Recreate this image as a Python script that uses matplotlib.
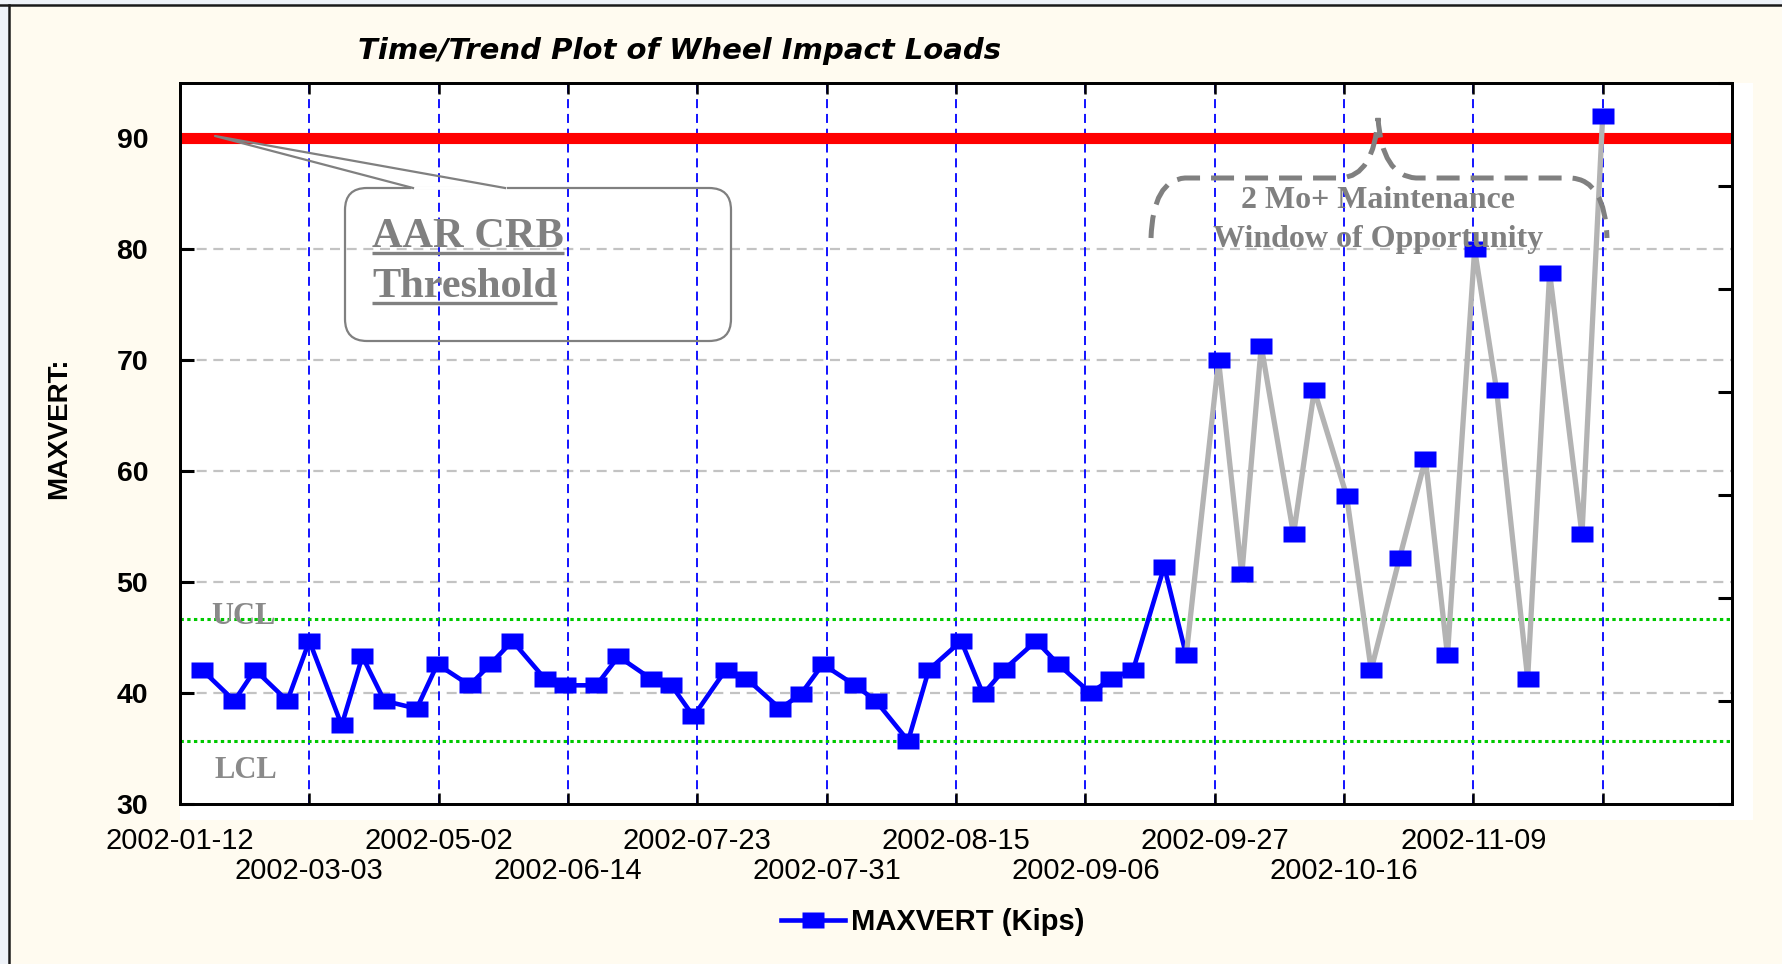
import matplotlib
matplotlib.use('Agg')
import matplotlib.pyplot as plt
from matplotlib.patches import FancyBboxPatch, Rectangle, PathPatch
from matplotlib.path import Path
from matplotlib.lines import Line2D
import matplotlib.transforms as mtransforms
import numpy as np

# ---------------- data ----------------
tick_labels = ['2002-01-12', '2002-03-03', '2002-05-02', '2002-06-14', '2002-07-23',
               '2002-07-31', '2002-08-15', '2002-09-06', '2002-09-27', '2002-10-16',
               '2002-11-09']
x_pos = [0.17, 0.42, 0.58, 0.83, 1.00, 1.25, 1.41, 1.58, 1.83, 1.99,
         2.24, 2.40, 2.57, 2.82, 2.98, 3.22, 3.39, 3.64, 3.80, 3.97,
         4.22, 4.38, 4.64, 4.80, 4.97, 5.22, 5.38, 5.63, 5.79, 6.04,
         6.21, 6.37, 6.62, 6.79, 7.04, 7.20, 7.37, 7.61, 7.78, 8.03,
         8.21, 8.36, 8.61, 8.77, 9.02, 9.21, 9.43, 9.63, 9.80, 10.01,
         10.18, 10.42, 10.59, 10.84, 11.00]
maxvert = [42.1, 39.3, 42.1, 39.3, 44.7, 37.1, 43.3, 39.3, 38.6, 42.6,
           40.7, 42.6, 44.7, 41.3, 40.7, 40.7, 43.3, 41.3, 40.7, 37.9,
           42.1, 41.3, 38.6, 39.9, 42.6, 40.7, 39.3, 35.7, 42.1, 44.7,
           39.9, 42.1, 44.7, 42.6, 40.0, 41.3, 42.1, 51.4, 43.4, 70.0,
           50.7, 71.3, 54.3, 67.3, 57.8, 42.1, 52.2, 61.1, 43.4, 80.0,
           67.3, 41.3, 77.9, 54.3, 92.0]
n_blue = 39            # points drawn with the blue connecting line
threshold = 90         # AAR CRB threshold
ucl = 46.7
lcl = 35.7
y_grid = [40, 50, 60, 70, 80]

# ---------------- figure ----------------
W, H = 1783, 964
fig = plt.figure(figsize=(W / 100, H / 100), dpi=100)
fig.patch.set_facecolor('#EEF2F8')
px = mtransforms.Affine2D().scale(1 / W, -1 / H).translate(0, 1) + fig.transFigure

def fx(p):
    return p / W

def fy(p):
    return 1 - p / H

# cream panel and border
fig.add_artist(Rectangle((9, 5), W - 9, 960, transform=px, facecolor='#FFFBF0',
                         edgecolor='none', zorder=-3))
fig.add_artist(Line2D([9, 9], [5, 964], transform=px, color='#1a1a1a', lw=1.8, zorder=-2))
fig.add_artist(Line2D([0, W], [5, 5], transform=px, color='#1a1a1a', lw=1.8, zorder=-2))
# white plot backdrop slightly larger than axes
fig.add_artist(Rectangle((180, 83), 1573, 737, transform=px, facecolor='white',
                         edgecolor='none', zorder=-1))

ax = fig.add_axes([fx(180), fy(804), fx(1732) - fx(180), fy(83) - fy(804)])
ax.set_facecolor('white')
ax.set_xlim(0, 12)
ax.set_ylim(30, 95)

# grid lines
for g in y_grid:
    ax.axhline(g, color='#C3C3C3', lw=1.6, dashes=(4.5, 3.0), zorder=1)
for t in range(1, 12):
    ax.axvline(t, color='#0000FF', lw=1.3, dashes=(5, 3.2), zorder=1)

# control limits & threshold
ax.axhline(ucl, color='#00C800', lw=2.2, ls=(0, (1.1, 1.1)), zorder=2)
ax.axhline(lcl, color='#00C800', lw=2.2, ls=(0, (1.1, 1.1)), zorder=2)
ax.axhline(threshold, color='#FF0000', lw=8, zorder=2)

# data
ax.plot(x_pos[:n_blue], maxvert[:n_blue], color='#0000FF', lw=3.3, zorder=4)
ax.plot(x_pos[n_blue - 1:], maxvert[n_blue - 1:], color='#B3B3B3', lw=3.8, zorder=4)
rect_marker = Path([(-1.1, -0.8), (1.1, -0.8), (1.1, 0.8), (-1.1, 0.8), (-1.1, -0.8)],
                   [Path.MOVETO, Path.LINETO, Path.LINETO, Path.LINETO, Path.CLOSEPOLY])
ax.plot(x_pos, maxvert, ls='none', marker=rect_marker, ms=16, color='#0000FF',
        mec='none', zorder=5)

# axes styling
for s in ax.spines.values():
    s.set_linewidth(2.0)
    s.set_color('black')

ax.set_yticks([30, 40, 50, 60, 70, 80, 90])
ax.set_yticklabels(['30', '40', '50', '60', '70', '80', '90'])
ax.set_xticks(range(0, 13, 2))
ax.set_xticklabels(tick_labels[0::2] + [''])
ax.set_xticks(range(1, 12, 2), minor=True)
ax.set_xticklabels(tick_labels[1::2] + [''], minor=True)

ax.tick_params(axis='y', which='both', direction='in', length=10, width=2.2,
               left=True, right=False, pad=23, labelsize=20.5)
ax.tick_params(axis='x', which='major', direction='in', length=8, width=1.8,
               top=True, bottom=True, pad=16.5, labelsize=21)
ax.tick_params(axis='x', which='minor', direction='in', length=8, width=1.8,
               top=True, bottom=True, pad=38.5, labelsize=21)
for lab in ax.get_yticklabels():
    lab.set_fontfamily('Liberation Sans')
    lab.set_fontweight('bold')
for lab in ax.get_xticklabels() + ax.get_xticklabels(minor=True):
    lab.set_fontfamily('Liberation Sans')

ax2 = ax.twinx()
ax2.set_ylim(30, 95)
ax2.set_yticks(np.linspace(30, 95, 8))
ax2.tick_params(axis='y', direction='in', length=10, width=2.2, labelright=False,
                right=True, left=False)
for s in ax2.spines.values():
    s.set_linewidth(2.0)

# title, labels
fig.text(fx(680), fy(51), 'Time/Trend Plot of Wheel Impact Loads', ha='center', va='center',
         fontsize=21, fontweight='bold', fontstyle='italic', family='DejaVu Sans')
fig.text(fx(59), fy(428), 'MAXVERT:', rotation=90, ha='center', va='center',
         fontsize=20, fontweight='bold', family='Liberation Sans')

gray_txt = '#808080'
fig.text(fx(243), fy(617), 'UCL', ha='center', va='center', fontsize=22,
         fontweight='bold', family='Liberation Serif', color='#8A8A8A')
fig.text(fx(246), fy(770), 'LCL', ha='center', va='center', fontsize=22,
         fontweight='bold', family='Liberation Serif', color='#8A8A8A')

# legend
handle = Line2D([], [], color='#0000FF', lw=3.3, marker=rect_marker, ms=16, mec='none')
fig.legend(handles=[handle], labels=['MAXVERT (Kips)'], loc='center',
           bbox_to_anchor=(fx(933), fy(922)), frameon=False, handlelength=2.2,
           handletextpad=0.2, prop={'family': 'Liberation Sans', 'weight': 'bold', 'size': 21})

# AAR CRB callout
box = FancyBboxPatch((345, 188), 386, 153, boxstyle='round,pad=0,rounding_size=22',
                     transform=px, facecolor='none', edgecolor=gray_txt, lw=1.6, zorder=6)
fig.add_artist(box)
fig.add_artist(Line2D([413, 505], [188, 188], transform=px, color='white', lw=2.6, zorder=7))
fig.add_artist(Line2D([413, 215, 505], [188, 136, 188], transform=px, color=gray_txt,
                      lw=1.6, zorder=8))
t1 = fig.text(fx(372), fy(247), 'AAR CRB', ha='left', va='baseline', fontsize=30.5,
              fontweight='bold', family='Liberation Serif', color=gray_txt, zorder=8)
t2 = fig.text(fx(372), fy(297), 'Threshold', ha='left', va='baseline', fontsize=30.5,
              fontweight='bold', family='Liberation Serif', color=gray_txt, zorder=8)
fig.canvas.draw()
r = fig.canvas.get_renderer()
for t, uy in ((t1, 253), (t2, 303)):
    bb = t.get_window_extent(r)
    fig.add_artist(Line2D([bb.x0, bb.x1], [uy, uy], transform=px, color=gray_txt,
                          lw=2.4, zorder=8, solid_capstyle='butt'))

# maintenance window brace
verts = [(1151, 238), (1153, 180), (1185, 178),
         (1341, 178),
         (1374, 176), (1378, 118),
         (1382, 176), (1416, 178),
         (1571, 178),
         (1605, 180), (1607, 238)]
codes = [Path.MOVETO, Path.CURVE3, Path.CURVE3,
         Path.LINETO,
         Path.CURVE3, Path.CURVE3,
         Path.CURVE3, Path.CURVE3,
         Path.LINETO,
         Path.CURVE3, Path.CURVE3]
brace = PathPatch(Path(verts, codes), transform=px, facecolor='none', edgecolor=gray_txt,
                  lw=3.6, linestyle=(0, (4.6, 2.2)), zorder=6)
fig.add_artist(brace)
fig.text(fx(1378), fy(201), '2 Mo+ Maintenance', ha='center', va='center', fontsize=23,
         fontweight='bold', family='Liberation Serif', color=gray_txt, zorder=7)
fig.text(fx(1378), fy(240), 'Window of Opportunity', ha='center', va='center', fontsize=23,
         fontweight='bold', family='Liberation Serif', color=gray_txt, zorder=7)

fig.savefig('out.png', dpi=100, facecolor=fig.get_facecolor())
